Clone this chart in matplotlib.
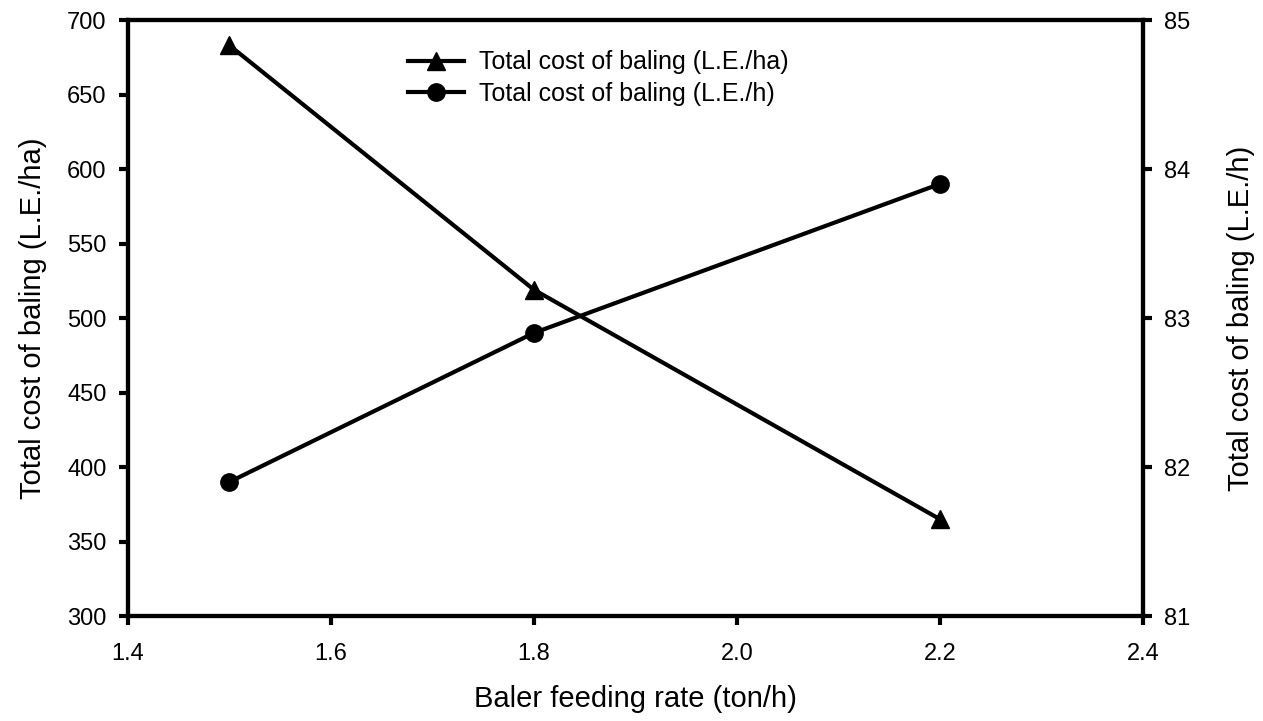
import matplotlib
matplotlib.use('Agg')
import matplotlib.pyplot as plt

feed_rate = [1.5, 1.8, 2.2]
cost_ha = [683, 519, 365]      # L.E./ha, left axis
cost_h = [81.9, 82.9, 83.9]    # L.E./h, right axis

plt.rcParams['font.family'] = ['Liberation Sans', 'DejaVu Sans']

fig = plt.figure(figsize=(12.63, 7.21), dpi=100)
ax = fig.add_axes([0.1013, 0.1456, 0.8036, 0.8266])
ax2 = ax.twinx()

l1, = ax.plot(feed_rate, cost_ha, color='black', lw=3, marker='^', markersize=13,
              label='Total cost of baling (L.E./ha)')
l2, = ax2.plot(feed_rate, cost_h, color='black', lw=3, marker='o', markersize=12.5,
               label='Total cost of baling (L.E./h)')

ax.set_xlim(1.4, 2.4)
ax.set_ylim(300, 700)
ax2.set_ylim(81, 85)
ax.set_xticks([1.4, 1.6, 1.8, 2.0, 2.2, 2.4])
ax.set_yticks(range(300, 701, 50))
ax2.set_yticks([81, 82, 83, 84, 85])

for a in (ax, ax2):
    for s in a.spines.values():
        s.set_linewidth(3)
    a.tick_params(direction='out', length=6.5, width=3, labelsize=17, pad=9)
ax.tick_params(axis='x', pad=13)

ax.set_xlabel('Baler feeding rate (ton/h)', fontsize=21, labelpad=14)
ax.set_ylabel('Total cost of baling (L.E./ha)', fontsize=21, labelpad=14)
ax2.set_ylabel('Total cost of baling (L.E./h)', fontsize=21, labelpad=26)

fig.legend(handles=[l1, l2], loc='upper left', bbox_to_anchor=(0.323, 0.93),
           frameon=False, fontsize=18, handlelength=2.25, handletextpad=0.6,
           labelspacing=0.3, borderpad=0, borderaxespad=0)

fig.savefig('out.png', dpi=100)
